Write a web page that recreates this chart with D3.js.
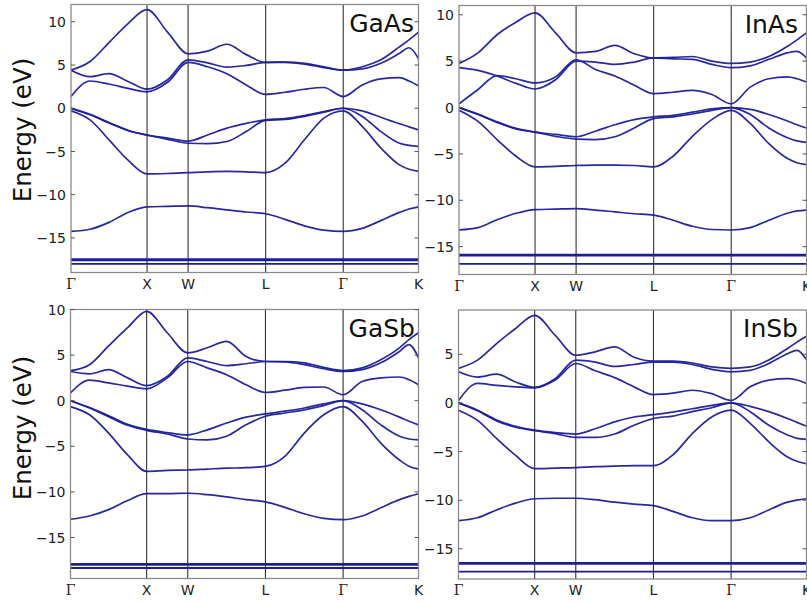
<!DOCTYPE html>
<html>
<head>
<meta charset="utf-8">
<script src="https://cdn.jsdelivr.net/npm/d3@7/dist/d3.min.js"></script>
<style>
  body { margin: 0; background: #fff; }
  svg { display: block; }
</style>
</head>
<body>
<svg id="chart" width="807" height="603"></svg>
<script>
// k-path
const kLabels = ['Γ', 'X', 'W', 'L', 'Γ', 'K'];
const kTicks = [0, 1, 1.54, 2.56, 3.58, 4.57];
// sample points along the path (Γ-X, X-W, W-L, L-Γ, Γ-K)
const kGrid = [0, 0.25, 0.5, 0.75, 1, 1.27, 1.54, 1.795, 2.05, 2.305, 2.56,
  2.815, 3.07, 3.325, 3.58, 3.83, 4.075, 4.32, 4.445, 4.57];
const yTicks = [-15, -10, -5, 0, 5, 10];

// GaAs bands (eV)
const gaasS = [-14.25, -14.0, -13.2, -12.05, -11.4, -11.35, -11.3, -11.5, -11.75, -12.0, -12.2, -12.85, -13.6, -14.1, -14.25, -13.9, -13.0, -12.05, -11.65, -11.4];
const gaasV1 = [-0.3, -1.35, -3.65, -6.0, -7.6, -7.55, -7.45, -7.35, -7.3, -7.35, -7.45, -6.35, -3.65, -1.15, -0.3, -2.1, -4.6, -6.55, -7.05, -7.3];
const gaasV2 = [0, -0.75, -1.7, -2.6, -3.1, -3.6, -4.05, -4.1, -3.85, -2.7, -1.4, -1.3, -0.95, -0.45, 0, -0.95, -2.7, -4.05, -4.3, -4.4];
const gaasV3 = [0, -0.7, -1.65, -2.55, -3.1, -3.45, -3.8, -3.1, -2.3, -1.75, -1.35, -1.2, -0.85, -0.4, 0, -0.3, -1.05, -1.8, -2.15, -2.5];
const gaasC1 = [1.35, 3.15, 2.8, 2.3, 1.9, 3.0, 5.3, 4.8, 4.0, 2.7, 1.6, 1.85, 2.2, 2.4, 1.35, 2.7, 3.4, 3.55, 3.15, 2.6];
const gaasC2 = [4.4, 3.65, 4.0, 3.1, 2.2, 3.3, 5.6, 5.25, 4.75, 4.95, 5.3, 5.3, 5.1, 4.7, 4.4, 4.55, 5.2, 6.35, 7.0, 5.75];
const gaasC3 = [4.4, 5.4, 7.6, 9.8, 11.4, 8.8, 6.3, 6.6, 7.4, 6.2, 5.3, 5.35, 5.2, 4.8, 4.4, 4.8, 5.6, 7.1, 7.9, 8.8];
const gaasFlat = [-17.45, -17.6, -18.0];

// InAs bands (eV)
const inasS = [-13.2, -12.95, -12.1, -11.4, -11.0, -10.95, -10.9, -11.05, -11.25, -11.45, -11.6, -12.15, -12.8, -13.15, -13.2, -12.95, -12.15, -11.4, -11.15, -11.05];
const inasV1 = [-0.3, -1.5, -3.45, -5.25, -6.4, -6.35, -6.25, -6.2, -6.2, -6.25, -6.4, -5.25, -3.1, -1.3, -0.3, -1.7, -3.9, -5.5, -5.95, -6.15];
const inasV2 = [0, -0.75, -1.6, -2.3, -2.65, -3.1, -3.4, -3.45, -3.15, -2.2, -1.2, -1.0, -0.7, -0.3, 0, -0.75, -2.2, -3.25, -3.6, -3.75];
const inasV3 = [0, -0.7, -1.55, -2.25, -2.65, -2.9, -3.15, -2.55, -1.85, -1.3, -1.0, -0.85, -0.5, -0.15, 0, -0.2, -0.75, -1.45, -1.85, -2.2];
const inasC1 = [0.4, 1.95, 3.45, 3.1, 2.65, 3.3, 5.15, 4.1, 3.4, 2.4, 1.5, 1.65, 1.85, 1.4, 0.4, 2.2, 3.1, 3.3, 3.1, 2.75];
const inasC2 = [4.3, 4.0, 3.4, 2.6, 2.0, 3.0, 5.0, 4.9, 4.65, 4.9, 5.35, 5.25, 5.2, 4.65, 4.3, 4.5, 5.2, 5.9, 6.05, 5.35];
const inasC3 = [4.75, 5.9, 7.85, 9.2, 10.2, 8.05, 5.9, 6.05, 6.7, 5.8, 5.35, 5.4, 5.5, 5.0, 4.75, 4.9, 5.5, 6.6, 7.3, 8.05];
const inasFlat = [-15.85, -15.95, -16.85];

// GaSb bands (eV)
const gasbS = [-13.0, -12.65, -11.95, -10.95, -10.2, -10.2, -10.15, -10.3, -10.55, -10.85, -11.1, -11.7, -12.4, -12.9, -13.05, -12.65, -11.75, -10.85, -10.5, -10.2];
const gasbV1 = [-0.65, -1.55, -3.55, -5.95, -7.75, -7.65, -7.6, -7.5, -7.4, -7.35, -7.2, -6.1, -3.55, -1.55, -0.65, -2.25, -4.65, -6.5, -7.2, -7.5];
const gasbV2 = [0, -0.8, -1.75, -2.7, -3.25, -3.65, -4.2, -4.3, -3.9, -2.65, -1.7, -1.35, -1.0, -0.55, 0, -1.0, -2.65, -3.9, -4.2, -4.3];
const gasbV3 = [0, -0.75, -1.65, -2.6, -3.15, -3.5, -3.75, -3.2, -2.45, -1.8, -1.45, -1.15, -0.8, -0.35, 0, -0.35, -1.0, -1.8, -2.25, -2.65];
const gasbC1 = [0.85, 2.25, 1.95, 1.6, 1.3, 2.5, 4.3, 3.6, 2.85, 1.75, 0.9, 1.15, 1.45, 1.5, 0.65, 2.1, 2.5, 2.6, 2.3, 1.75];
const gasbC2 = [3.2, 2.95, 3.4, 2.5, 1.65, 2.65, 4.7, 4.3, 3.85, 4.05, 4.3, 4.25, 3.95, 3.5, 3.2, 3.4, 4.15, 5.4, 6.15, 4.7];
const gasbC3 = [3.3, 3.95, 6.0, 8.0, 9.8, 7.45, 5.25, 5.8, 6.5, 4.85, 4.3, 4.3, 4.15, 3.65, 3.3, 3.6, 4.5, 5.8, 6.7, 7.45];
const gasbFlat = [-17.9, -18.0, -18.35];

// InSb bands (eV)
const insbS = [-12.1, -11.8, -11.0, -10.3, -9.85, -9.8, -9.8, -9.95, -10.2, -10.4, -10.55, -11.15, -11.8, -12.1, -12.1, -11.8, -11.0, -10.2, -10.0, -9.85];
const insbV1 = [-0.75, -1.8, -3.65, -5.4, -6.75, -6.7, -6.65, -6.55, -6.5, -6.45, -6.45, -5.35, -3.15, -1.45, -0.75, -2.1, -4.0, -5.55, -6.0, -6.25];
const insbV2 = [0, -0.8, -1.85, -2.5, -2.85, -3.15, -3.55, -3.55, -3.2, -2.3, -1.6, -1.35, -0.9, -0.5, 0, -0.9, -2.3, -3.3, -3.65, -3.75];
const insbV3 = [0, -0.75, -1.75, -2.4, -2.8, -3.05, -3.2, -2.65, -1.95, -1.45, -1.2, -0.95, -0.6, -0.25, 0, -0.35, -0.9, -1.6, -2.0, -2.4];
const insbC1 = [0.25, 2.0, 1.8, 1.65, 1.55, 2.35, 4.05, 3.3, 2.6, 1.65, 0.85, 1.0, 1.3, 0.95, 0.25, 1.65, 2.35, 2.5, 2.35, 2.0];
const insbC2 = [3.2, 2.65, 2.95, 2.15, 1.6, 2.5, 4.4, 4.2, 3.75, 3.95, 4.2, 4.2, 3.95, 3.45, 3.2, 3.35, 4.05, 5.05, 5.4, 4.45];
const insbC3 = [3.55, 4.4, 6.1, 7.65, 9.0, 6.95, 4.9, 5.25, 5.75, 4.7, 4.3, 4.3, 4.1, 3.7, 3.55, 3.7, 4.4, 5.6, 6.25, 6.85];
const insbFlat = [-16.45, -16.55, -17.35];

const panels = [
  { name: 'GaAs', bands: [gaasS, gaasV1, gaasV2, gaasV3, gaasC1, gaasC2, gaasC3], flats: gaasFlat,
    yDomain: [-19, 12], left: 71, right: 418.5, top: 4.5, bottom: 272.5, ylabel: true, labelY: 130, titleX: 414 },
  { name: 'InAs', bands: [inasS, inasV1, inasV2, inasV3, inasC1, inasC2, inasC3], flats: inasFlat,
    yDomain: [-18, 11], left: 459, right: 806.5, top: 5.5, bottom: 274.5, ylabel: false, titleX: 798 },
  { name: 'GaSb', bands: [gasbS, gasbV1, gasbV2, gasbV3, gasbC1, gasbC2, gasbC3], flats: gasbFlat,
    yDomain: [-19.5, 10], left: 70.5, right: 418.5, top: 309.5, bottom: 578.5, ylabel: true, labelY: 428, titleX: 415 },
  { name: 'InSb', bands: [insbS, insbV1, insbV2, insbV3, insbC1, insbC2, insbC3], flats: insbFlat,
    yDomain: [-18.1, 9.55], left: 458.5, right: 806.5, top: 310, bottom: 579, ylabel: false, titleX: 798 }
];

const svg = d3.select('#chart');
const bandColor = '#1c1c9c';

panels.forEach((p, pi) => {
  const x = d3.scaleLinear().domain([kTicks[0], kTicks[kTicks.length - 1]]).range([p.left, p.right]);
  const y = d3.scaleLinear().domain(p.yDomain).range([p.bottom, p.top]);
  const g = svg.append('g');

  const clipId = 'clip' + pi;
  svg.append('clipPath').attr('id', clipId).append('rect')
    .attr('x', p.left).attr('y', p.top).attr('width', p.right - p.left).attr('height', p.bottom - p.top);

  // high-symmetry lines
  g.selectAll('line.ksym').data(kTicks.slice(1, -1)).enter().append('line')
    .attr('x1', d => x(d)).attr('x2', d => x(d))
    .attr('y1', p.top).attr('y2', p.bottom)
    .attr('stroke', '#333').attr('stroke-width', 1.1);

  const plot = g.append('g').attr('clip-path', 'url(#' + clipId + ')');

  // flat semicore bands
  plot.selectAll('line.flat').data(p.flats).enter().append('line')
    .attr('x1', x(kTicks[0])).attr('x2', x(kTicks[kTicks.length - 1]))
    .attr('y1', d => y(d)).attr('y2', d => y(d))
    .attr('stroke', bandColor).attr('stroke-width', 1.8);

  const line = d3.line()
    .x(d => x(d[0]))
    .y(d => y(d[1]))
    .curve(d3.curveMonotoneX);

  plot.selectAll('path.band').data(p.bands).enter().append('path')
    .attr('d', d => line(d3.zip(kGrid, d)))
    .attr('fill', 'none')
    .attr('stroke', bandColor)
    .attr('stroke-width', 1.7)
    .attr('stroke-opacity', 0.95);

  // frame
  g.append('rect')
    .attr('x', p.left).attr('y', p.top)
    .attr('width', p.right - p.left).attr('height', p.bottom - p.top)
    .attr('fill', 'none').attr('stroke', '#8a8a8a').attr('stroke-width', 1.3);

  // y ticks
  const ticks = yTicks.filter(t => t >= p.yDomain[0] && t <= p.yDomain[1]);
  ticks.forEach(t => {
    g.append('line').attr('x1', p.left).attr('x2', p.left + 4)
      .attr('y1', y(t)).attr('y2', y(t)).attr('stroke', '#555');
    g.append('line').attr('x1', p.right - 4).attr('x2', p.right)
      .attr('y1', y(t)).attr('y2', y(t)).attr('stroke', '#555');
    g.append('text')
      .attr('x', p.left - 5).attr('y', y(t))
      .attr('dy', '0.36em')
      .attr('text-anchor', 'end')
      .attr('font-family', 'DejaVu Sans, sans-serif')
      .attr('font-size', 14)
      .attr('fill', '#222')
      .text(t < 0 ? '\u2212' + Math.abs(t) : String(t));
  });

  // x tick labels
  kTicks.forEach((k, i) => {
    const lab = kLabels[i];
    g.append('text')
      .attr('x', x(k)).attr('y', p.bottom + 16)
      .attr('text-anchor', 'middle')
      .attr('font-family', lab === 'Γ' ? 'DejaVu Serif, serif' : 'DejaVu Sans, sans-serif')
      .attr('font-size', 14)
      .attr('fill', '#222')
      .text(lab);
  });

  // material name
  g.append('text')
    .attr('x', p.titleX).attr('y', p.top + 27)
    .attr('text-anchor', 'end')
    .attr('font-family', 'DejaVu Sans, sans-serif')
    .attr('font-size', 25)
    .attr('fill', '#111')
    .text(p.name);

  if (p.ylabel) {
    svg.append('text')
      .attr('transform', 'translate(31,' + p.labelY + ') rotate(-90)')
      .attr('text-anchor', 'middle')
      .attr('font-family', 'DejaVu Sans, sans-serif')
      .attr('font-size', 24.5)
      .attr('fill', '#111')
      .text('Energy (eV)');
  }
});
</script>
</body>
</html>
